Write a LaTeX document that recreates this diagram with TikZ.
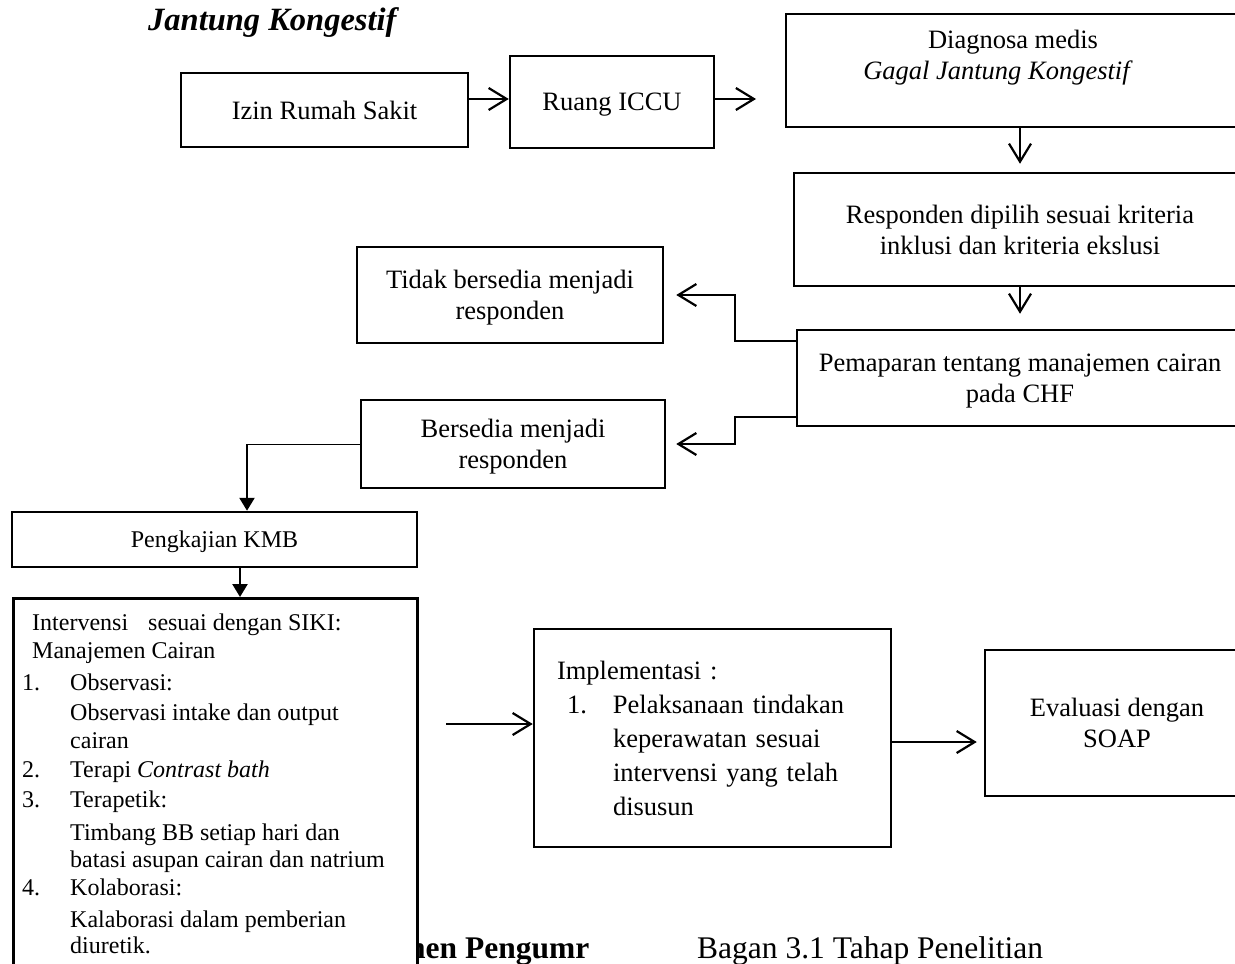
\documentclass[tikz,border=0pt]{standalone}
\usepackage{fontspec}
\setmainfont{Liberation Serif}
\usetikzlibrary{arrows.meta}
\newcommand\fM{\fontsize{26.5}{31}\selectfont}
\newcommand\fS{\fontsize{24}{28}\selectfont}
\newcommand\fL{\fontsize{31.5}{36}\selectfont}
\begin{document}
\begin{tikzpicture}[x=1pt,y=-1pt,
  box/.style={draw, line width=2.5pt, fill=white, inner sep=0pt, align=center, font=\fM},
  arr/.style={line width=2.2pt, -{Straight Barb[length=18pt,width=22pt]}},
  farr/.style={line width=2.5pt, -{Triangle[length=13pt,width=15pt]}},
  thinline/.style={line width=1pt},
  txt/.style={inner sep=0pt, anchor=base west, font=\fS}]
\fill[white] (0,0) rectangle (1235,964);
\useasboundingbox (0,0) rectangle (1235,964);

% title, caption, partial heading
\node[inner sep=0pt, anchor=base west, font=\fontsize{32.5}{36}\selectfont\bfseries\itshape] (title) at (148,30) {Jantung Kongestif};
\node[inner sep=0pt, anchor=base west, font=\fL] (caption) at (697,958) {Bagan 3.1 Tahap Penelitian};
\node[inner sep=0pt, anchor=base west, font=\fL\bfseries] (frag) at (408,958) {nen Pengumr};

% boxes
\node[box, minimum width=287pt, minimum height=74pt] (izin) at (324.5,110) {Izin Rumah Sakit};
\node[box, minimum width=204pt, minimum height=92pt, text depth=0pt] (iccu) at (612,102) {Ruang ICCU};
\node[box, minimum width=468pt, minimum height=113pt] (diag) at (1020,70.5)
  {\mbox{Diagnosa medis\hspace{14pt}}\\\mbox{\textit{Gagal Jantung Kongestif}\hspace{44pt}}\\\mbox{}};
\node[box, minimum width=452pt, minimum height=113pt] (resp) at (1020,229.5)
  {Responden dipilih sesuai kriteria\\inklusi dan kriteria ekslusi};
\node[box, minimum width=306pt, minimum height=96pt, text depth=0pt] (tidak) at (510,295)
  {Tidak bersedia menjadi\\responden};
\node[box, minimum width=446pt, minimum height=96pt, text depth=0pt] (pem) at (1020,378)
  {Pemaparan tentang manajemen cairan\\pada CHF};
\node[box, minimum width=304pt, minimum height=88pt, text depth=0pt] (bers) at (513,444)
  {Bersedia menjadi\\responden};
\node[box, minimum width=405pt, minimum height=55pt, font=\fS, text depth=0pt] (pengk) at (214.5,539.5) {Pengkajian KMB};
\node[box, minimum width=404pt, minimum height=420pt, anchor=north west] (interv) at (12,597) {};
\node[box, align=left, text width=311pt, inner xsep=23pt, minimum height=218pt,
      font=\fontsize{26.5}{34}\selectfont] (impl) at (712.5,738)
  {Implementasi :\\\hspace*{10pt}\makebox[46pt][l]{1.}Pelaksanaan tindakan\\\hspace*{56pt}keperawatan sesuai\\\hspace*{56pt}intervensi yang telah\\\hspace*{56pt}disusun};
\node[box, minimum width=264pt, minimum height=146pt] (eval) at (1117,723)
  {Evaluasi dengan\\SOAP};

% Intervensi contents
\node[txt] (i1) at (32,630) {Intervensi\hspace*{20pt}sesuai dengan SIKI:};
\node[txt] (i2) at (32,658) {Manajemen Cairan};
\node[txt] (n1) at (22,690) {1.};
\node[txt] (i3) at (70,690) {Observasi:};
\node[txt] (i4) at (70,720) {Observasi intake dan output};
\node[txt] (i5) at (70,748) {cairan};
\node[txt] (n2) at (22,777) {2.};
\node[txt] (i6) at (70,777) {Terapi \textit{Contrast bath}};
\node[txt] (n3) at (22,807) {3.};
\node[txt] (i7) at (70,807) {Terapetik:};
\node[txt] (i8) at (70,840) {Timbang BB setiap hari dan};
\node[txt] (i9) at (70,867) {batasi asupan cairan dan natrium};
\node[txt] (n4) at (22,895) {4.};
\node[txt] (i10) at (70,895) {Kolaborasi:};
\node[txt] (i11) at (70,927) {Kalaborasi dalam pemberian};
\node[txt] (i12) at (70,953) {diuretik.};

% connectors
\draw[arr] ([yshift=3pt]iccu.west -| izin.east) -- ([yshift=3pt]iccu.west);
\coordinate (free1) at (756,99);
\draw[arr] ([yshift=3pt]iccu.east) -- (free1);
\draw[arr, shorten >=8pt] (diag.south) -- (resp.north);
\draw[arr, shorten >=15pt] (resp.south) -- (pem.north);
\draw[arr, shorten >=12pt] ([yshift=-12pt]pem.north west) -- ++(-61,0) |- (tidak.east);
\draw[arr, shorten >=10pt] ([yshift=10pt]pem.south west) -- ++(-61,0) |- (bers.east);
\coordinate (bend) at (247,444);
\draw[thinline] (bers.west) -- (bend);
\draw[farr] (bend) -- (bend |- pengk.north);
\draw[farr] ([xshift=25.5pt]pengk.south) -- ([xshift=25.5pt]pengk.south |- interv.north);
\coordinate (free2) at (446,724);
\draw[arr] (free2) -- (free2 -| impl.west);
\draw[arr, shorten >=7pt] ([yshift=-4pt]impl.east) -- ([yshift=-4pt]impl.east -| eval.west);
\end{tikzpicture}
\end{document}
